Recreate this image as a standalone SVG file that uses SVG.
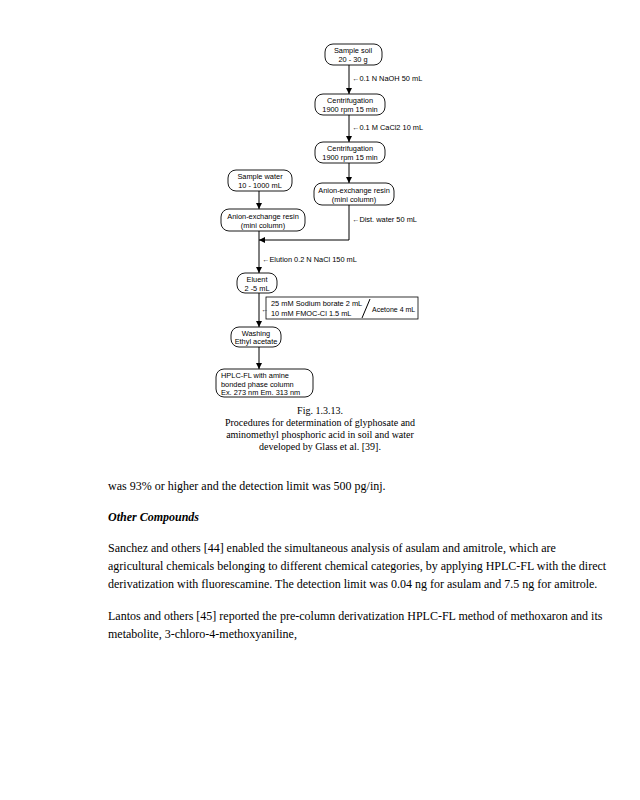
<svg xmlns="http://www.w3.org/2000/svg" width="640" height="800" viewBox="0 0 640 800">
<defs>
<marker id="ah" viewBox="0 0 6 6" refX="6" refY="3" markerWidth="6" markerHeight="6" orient="auto" markerUnits="userSpaceOnUse">
<path d="M0,0 L6,3 L0,6 z" fill="#000"/>
</marker>
<style>
.box{fill:#fff;stroke:#000;stroke-width:0.9}
.n{font-family:"Liberation Sans",Arial,sans-serif;font-size:7.4px;fill:#000}
.s{font-size:7px}
.c{text-anchor:middle}
.ln{stroke:#000;stroke-width:1;fill:none}
.cap{font-family:"Liberation Serif","Times New Roman",serif;font-size:10px;fill:#000;text-anchor:middle}
.body{font-family:"Liberation Serif","Times New Roman",serif;font-size:12px;fill:#000}
</style>
</defs>
<rect width="640" height="800" fill="#fff"/>

<g id="connectors">
<line class="ln" x1="349" y1="65" x2="349" y2="94" marker-end="url(#ah)"/>
<line class="ln" x1="349" y1="115" x2="349" y2="142" marker-end="url(#ah)"/>
<line class="ln" x1="349" y1="163" x2="349" y2="183" marker-end="url(#ah)"/>
<polyline class="ln" points="349,205 349,240 259,240" marker-end="url(#ah)"/>
<line class="ln" x1="259" y1="191" x2="259" y2="209" marker-end="url(#ah)"/>
<line class="ln" x1="259" y1="231" x2="259" y2="273" marker-end="url(#ah)"/>
<line class="ln" x1="259" y1="293" x2="259" y2="327" marker-end="url(#ah)"/>
<line class="ln" x1="259" y1="347" x2="259" y2="369" marker-end="url(#ah)"/>
</g>

<g id="soil">
<rect class="box" x="325" y="44" width="57" height="21" rx="8"/>
<text class="n c" x="353" y="53">Sample soil</text>
<text class="n c" x="353" y="62">20 - 30 g</text>
</g>
<g id="lbl-naoh"><text class="n" x="352" y="81">←0.1 N NaOH 50 mL</text></g>
<g id="centrifugation1">
<rect class="box" x="315" y="94" width="70" height="21" rx="8"/>
<text class="n c" x="350" y="103">Centrifugation</text>
<text class="n c" x="350" y="112">1900 rpm 15 min</text>
</g>
<g id="lbl-cacl2"><text class="n" x="352" y="130">←0.1 M CaCl2 10 mL</text></g>
<g id="centrifugation2">
<rect class="box" x="315" y="142" width="70" height="21" rx="8"/>
<text class="n c" x="350" y="151">Centrifugation</text>
<text class="n c" x="350" y="160">1900 rpm 15 min</text>
</g>
<g id="anion-right">
<rect class="box" x="314" y="183" width="80" height="22" rx="8"/>
<text class="n c" x="354" y="192.5">Anion-exchange resin</text>
<text class="n c" x="354" y="201.5">(mini column)</text>
</g>
<g id="lbl-dist"><text class="n" x="352" y="222">←Dist. water 50 mL</text></g>
<g id="water">
<rect class="box" x="228" y="170" width="64" height="21" rx="8"/>
<text class="n c" x="260" y="179">Sample water</text>
<text class="n c" x="260" y="188">10 - 1000 mL</text>
</g>
<g id="anion-left">
<rect class="box" x="221" y="209" width="84" height="22" rx="8"/>
<text class="n c" x="263" y="218.5">Anion-exchange resin</text>
<text class="n c" x="263" y="227.5">(mini column)</text>
</g>
<g id="lbl-elution"><text class="n" x="262" y="262">←Elution 0.2 N NaCl 150 mL</text></g>
<g id="eluent">
<rect class="box" x="237" y="273" width="40" height="20" rx="8"/>
<text class="n c" x="257" y="282">Eluent</text>
<text class="n c" x="257" y="291">2 -5 mL</text>
</g>
<g id="reagents">
<rect x="266" y="297" width="152" height="22" fill="#fff" stroke="#000" stroke-width="0.8"/>
<text class="n" x="261" y="312">←</text>
<text class="n" x="271" y="306">25 mM Sodium borate 2 mL</text>
<text class="n" x="271" y="316">10 mM FMOC-Cl 1.5 mL</text>
<line class="ln" x1="362" y1="318" x2="370" y2="299" stroke-width="0.8"/>
<text class="n s" x="372" y="312">Acetone 4 mL</text>
</g>
<g id="washing">
<rect class="box" x="231" y="327" width="50" height="20" rx="8"/>
<text class="n c" x="256" y="335.5">Washing</text>
<text class="n c" x="256" y="344">Ethyl acetate</text>
</g>
<g id="hplc">
<rect class="box" x="216" y="369" width="97" height="28" rx="8"/>
<text class="n" x="221" y="378">HPLC-FL with amine</text>
<text class="n" x="221" y="386.5">bonded phase column</text>
<text class="n" x="221" y="395">Ex. 273 nm Em. 313 nm</text>
</g>

<g id="caption">
<text class="cap" x="320" y="414">Fig. 1.3.13.</text>
<text class="cap" x="320" y="426">Procedures for determination of glyphosate and</text>
<text class="cap" x="320" y="438">aminomethyl phosphoric acid in soil and water</text>
<text class="cap" x="320" y="450">developed by Glass et al. [39].</text>
</g>

<g id="body">
<text class="body" x="108" y="490">was 93% or higher and the detection limit was 500 pg/inj.</text>
<text class="body" x="108" y="521" font-weight="bold" font-style="italic">Other Compounds</text>
<text class="body" x="108" y="552">Sanchez and others [44] enabled the simultaneous analysis of asulam and amitrole, which are</text>
<text class="body" x="108" y="570">agricultural chemicals belonging to different chemical categories, by applying HPLC-FL with the direct</text>
<text class="body" x="108" y="588">derivatization with fluorescamine. The detection limit was 0.04 ng for asulam and 7.5 ng for amitrole.</text>
<text class="body" x="108" y="620">Lantos and others [45] reported the pre-column derivatization HPLC-FL method of methoxaron and its</text>
<text class="body" x="108" y="638">metabolite, 3-chloro-4-methoxyaniline,</text>
</g>
</svg>
